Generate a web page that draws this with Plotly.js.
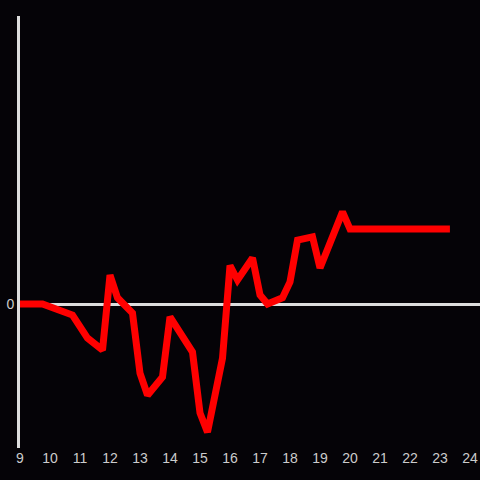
<!DOCTYPE html>
<html><head><meta charset="utf-8">
<script src="https://cdn.plot.ly/plotly-3.0.1.min.js"></script>
<style>html,body{margin:0;padding:0;background:#050307;}</style>
</head><body>
<div id="chart" style="width:480px;height:480px;"></div>
<script>
const hours = [9, 9.75, 10.75, 11.25, 11.75, 12, 12.25, 12.75, 13, 13.25, 13.75, 14, 14.75, 15, 15.25, 15.75, 16, 16.25, 16.75, 17, 17.25, 17.75, 18, 18.25, 18.75, 19, 19.75, 20, 23.33];
const values = [0, 0, -0.23, -0.71, -0.96, 0.6, 0.13, -0.19, -1.44, -1.9, -1.52, -0.27, -1.0, -2.27, -2.67, -1.13, 0.8, 0.5, 0.96, 0.19, 0, 0.13, 0.46, 1.33, 1.4, 0.75, 1.92, 1.56, 1.56];
const xTicks = [9,10,11,12,13,14,15,16,17,18,19,20,21,22,23,24];
const yTicks = [0];

Plotly.newPlot('chart', [{
  x: hours, y: values, type: 'scatter', mode: 'lines',
  line: {color: '#ff0000', width: 7}
}], {
  width: 480, height: 480,
  paper_bgcolor: '#050307', plot_bgcolor: '#050307',
  margin: {l: 20, r: 0, t: 16, b: 32},
  showlegend: false,
  font: {family: 'Liberation Sans, Arial, sans-serif', size: 14, color: '#cccccc'},
  xaxis: {range: [9, 24.333], tickvals: xTicks, ticktext: xTicks.map(String), showgrid: false, zeroline: false, showline: false, ticks: '', fixedrange: true},
  yaxis: {range: [-3, 6], tickvals: yTicks, ticktext: ['0'], showgrid: false, zeroline: true, zerolinecolor: '#dddddd', zerolinewidth: 3, showline: true, linecolor: '#dddddd', linewidth: 3, ticks: '', fixedrange: true}
}, {displayModeBar: false, staticPlot: true});
</script>
</body></html>
